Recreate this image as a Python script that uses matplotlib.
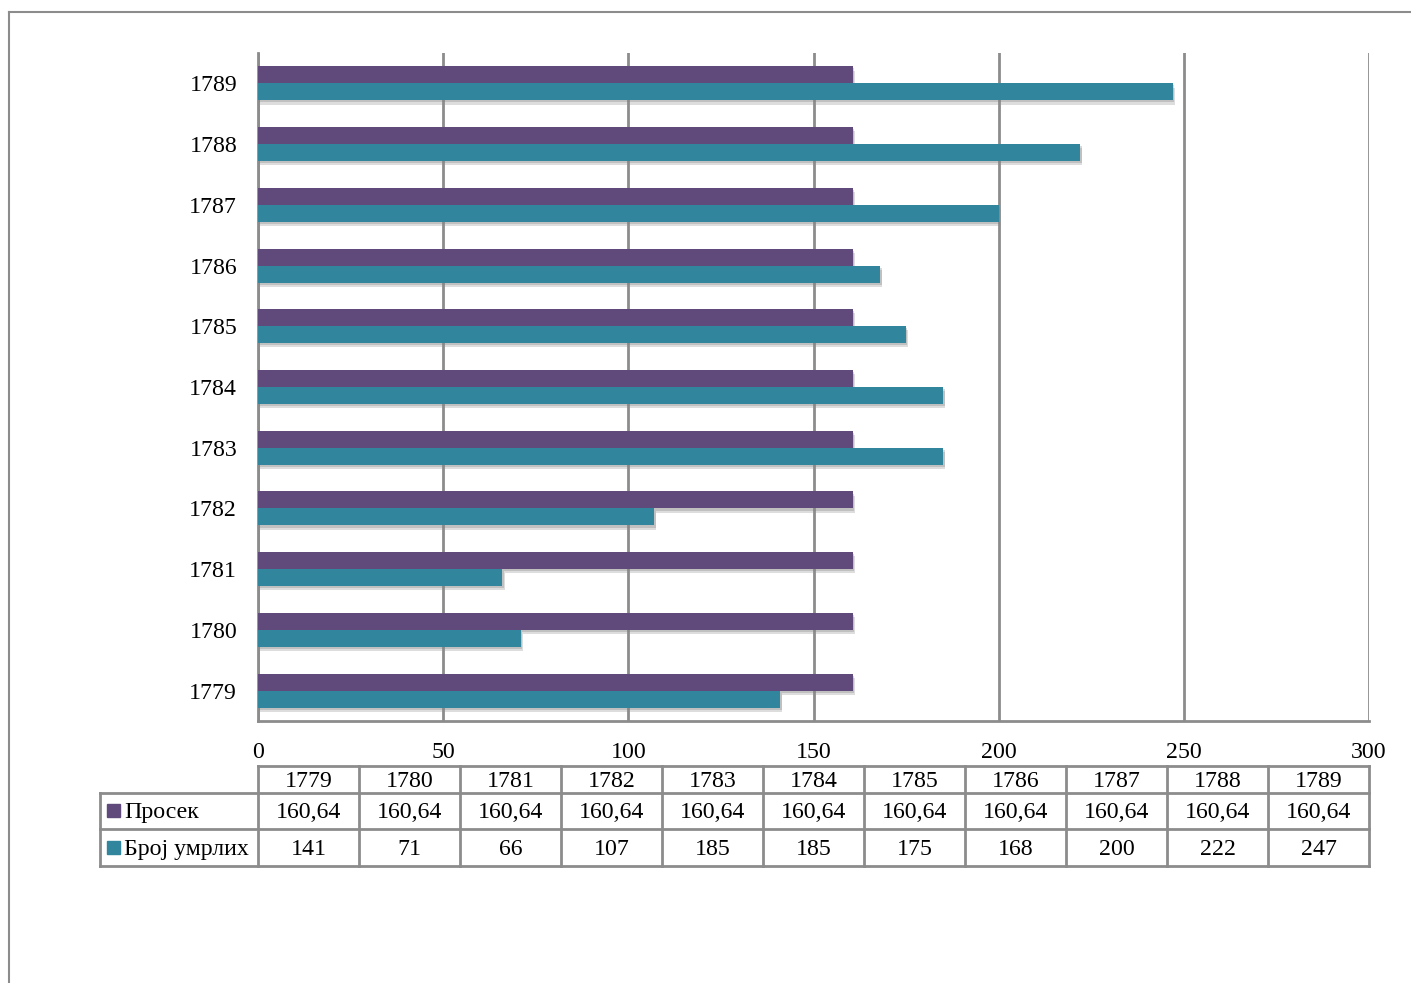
import matplotlib

matplotlib.use('Agg')
import matplotlib.pyplot as plt
import matplotlib.patheffects as pe
from matplotlib.lines import Line2D

plt.rcParams['font.family'] = ['Liberation Serif', 'DejaVu Serif']

years = [1779, 1780, 1781, 1782, 1783, 1784, 1785, 1786, 1787, 1788, 1789]
prosek = [160.64, 160.64, 160.64, 160.64, 160.64, 160.64, 160.64, 160.64, 160.64, 160.64, 160.64]
umrli = [141, 71, 66, 107, 185, 185, 175, 168, 200, 222, 247]
series_names = ['Просек', 'Број умрлих']
x_ticks = [0, 50, 100, 150, 200, 250, 300]

PURPLE = '#604a7b'
TEAL = '#31859c'
GRID = '#8c8c8c'
FS = 17.2

W, H = 1411, 983
fig = plt.figure(figsize=(W / 100, H / 100), dpi=100)

# outer frame (left and top edge only visible)
fig.add_artist(Line2D([9 / W, 9 / W], [0, 1 - 11.5 / H], transform=fig.transFigure, color='#8c8c8c', lw=1.5))
fig.add_artist(Line2D([9 / W, 1], [1 - 11.5 / H, 1 - 11.5 / H], transform=fig.transFigure, color='#8c8c8c', lw=1.5))

# main bar chart
left, right, top, bottom = 258, 1369, 53, 721
ax = fig.add_axes([left / W, 1 - bottom / H, (right - left) / W, (bottom - top) / H])

pos = list(range(len(years)))
bh = 0.28
shadow = [pe.SimplePatchShadow(offset=(1.5, -3), shadow_rgbFace='#8f8f8f', alpha=0.3),
          pe.SimplePatchShadow(offset=(1, -1.5), shadow_rgbFace='#7f7f7f', alpha=0.3), pe.Normal()]
b1 = ax.barh([p + bh / 2 for p in pos], prosek, height=bh, color=PURPLE, zorder=3)
b2 = ax.barh([p - bh / 2 for p in pos], umrli, height=bh, color=TEAL, zorder=3)
for b in list(b1) + list(b2):
    b.set_path_effects(shadow)

ax.set_xlim(0, 300)
ax.set_ylim(-0.5, len(years) - 0.5)
ax.set_xticks(x_ticks)
ax.set_xticklabels([str(t) for t in x_ticks], fontsize=FS)
ax.set_yticks(pos)
ax.set_yticklabels([str(y) for y in years], fontsize=FS)
ax.tick_params(axis='both', length=0)
ax.tick_params(axis='y', pad=15)
ax.tick_params(axis='x', pad=15)
ax.xaxis.grid(True, color=GRID, lw=2, zorder=0)
ax.set_axisbelow(True)
for s in ['top', 'right']:
    ax.spines[s].set_visible(False)
for s in ['left', 'bottom']:
    ax.spines[s].set_color(GRID)
    ax.spines[s].set_linewidth(2)

# data table under the chart
t_left, t_top, t_bottom = 100, 765.7, 865.7
label_w = (left - t_left) / ((right - left) / len(years))
tax = fig.add_axes([t_left / W, 1 - t_bottom / H, (right - t_left) / W, (t_bottom - t_top) / H])
tax.set_xlim(-label_w, len(years))
tax.set_ylim(100, 0)
tax.axis('off')

rows = [0, 27, 63.5, 100]
dy = 2  # text sits a little low in its cell
lk = dict(color=GRID, lw=2, clip_on=False)
tax.plot([0, len(years)], [rows[0], rows[0]], **lk)
for r in rows[1:]:
    tax.plot([-label_w, len(years)], [r, r], **lk)
tax.plot([-label_w, -label_w], [rows[1], rows[3]], **lk)
for i in range(len(years) + 1):
    tax.plot([i, i], [rows[0], rows[3]], **lk)

for i, y in enumerate(years):
    tax.text(i + 0.5, (rows[0] + rows[1]) / 2 + dy, str(y), ha='center', va='center', fontsize=FS)
    tax.text(i + 0.5, (rows[1] + rows[2]) / 2 + dy, ('%.2f' % prosek[i]).replace('.', ','),
             ha='center', va='center', fontsize=FS)
    tax.text(i + 0.5, (rows[2] + rows[3]) / 2 + dy, str(umrli[i]), ha='center', va='center', fontsize=FS)

key_w = 13 / 101
for k, (name, col) in enumerate(zip(series_names, [PURPLE, TEAL])):
    yc = (rows[k + 1] + rows[k + 2]) / 2
    tax.add_patch(plt.Rectangle((-label_w + 7 / 101, yc - 6.5), key_w, 13, color=col, clip_on=False))
    tax.text(-label_w + 24 / 101, yc + dy, name, ha='left', va='center', fontsize=FS)

fig.savefig('out.png', dpi=100)
